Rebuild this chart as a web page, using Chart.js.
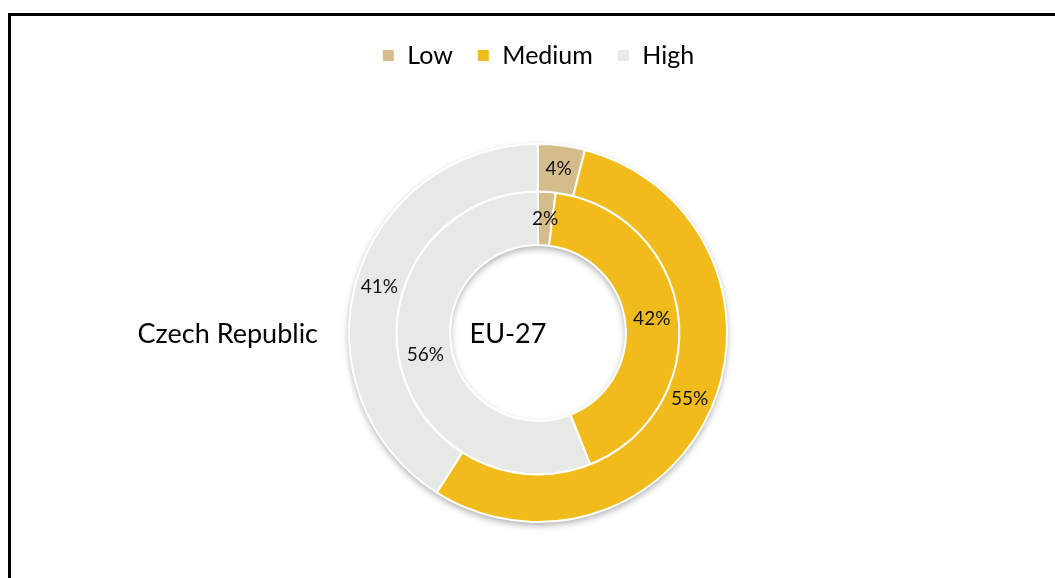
<!DOCTYPE html>
<html>
<head>
<meta charset="utf-8">
<script src="https://cdn.jsdelivr.net/npm/chart.js@4.4.1/dist/chart.umd.min.js"></script>
<style>
  html, body { margin: 0; padding: 0; background: #fff; overflow: hidden; }
  #wrap { position: relative; width: 1055px; height: 578px; }
  #frame { position: absolute; left: 8px; top: 13px; right: -10px; bottom: -10px;
           border-left: 3px solid #000; border-top: 3px solid #000; }
  canvas { position: absolute; left: 0; top: 0; }
</style>
</head>
<body>
<div id="wrap">
  <div id="frame"></div>
  <canvas id="c" width="1055" height="578"></canvas>
</div>
<script>
// Skill level shares (%)
const categories = ['Low', 'Medium', 'High'];
const czechRepublic = [4, 55, 41];   // outer ring
const eu27 = [2, 42, 56];            // inner ring
const ringNames = ['Czech Republic', 'EU-27'];
const colors = ['#D5BD8B', '#F1BC1B', '#E6E9E6'];

const FONT = 'Lato, "Open Sans", sans-serif';

// Soft drop shadow under the whole doughnut
const ringShadow = {
  id: 'ringShadow',
  beforeDatasetsDraw(chart) {
    const outer = chart.getDatasetMeta(0).data[0];
    const inner = chart.getDatasetMeta(1).data[0];
    if (!outer || !inner) return;
    const ctx = chart.ctx;
    ctx.save();
    ctx.shadowColor = 'rgba(0,0,0,0.35)';
    ctx.shadowBlur = 7;
    ctx.shadowOffsetY = 3;
    ctx.fillStyle = '#ffffff';
    ctx.beginPath();
    ctx.arc(outer.x, outer.y, outer.outerRadius, 0, Math.PI * 2);
    ctx.arc(outer.x, outer.y, inner.innerRadius, 0, Math.PI * 2, true);
    ctx.fill();
    ctx.restore();
  }
};

// Percentage labels on each slice, plus ring names
const sliceLabels = {
  id: 'sliceLabels',
  afterDatasetsDraw(chart) {
    const ctx = chart.ctx;
    ctx.save();
    ctx.font = '19px ' + FONT;
    ctx.fillStyle = '#111';
    ctx.textAlign = 'center';
    ctx.textBaseline = 'middle';
    chart.data.datasets.forEach((ds, di) => {
      chart.getDatasetMeta(di).data.forEach((arc, i) => {
        const p = arc.tooltipPosition();
        ctx.fillText(ds.data[i] + '%', p.x, p.y);
      });
    });
    const c = chart.getDatasetMeta(0).data[0];
    ctx.font = '27px ' + FONT;
    ctx.fillStyle = '#000';
    ctx.textAlign = 'right';
    ctx.fillText(ringNames[0], c.x - 220, c.y + 1);
    ctx.textAlign = 'center';
    ctx.fillText(ringNames[1], c.x - 30, c.y + 1);
    ctx.restore();
  }
};

// Reserve space between legend and doughnut
const legendGap = {
  id: 'legendGap',
  beforeInit(chart) {
    const fit = chart.legend.fit;
    chart.legend.fit = function () {
      fit.bind(chart.legend)();
      this.height = 124;
    };
  }
};

new Chart(document.getElementById('c'), {
  type: 'doughnut',
  data: {
    labels: categories,
    datasets: [
      { label: ringNames[0], data: czechRepublic, backgroundColor: colors,
        borderColor: '#ffffff', borderWidth: 2, weight: 48 },
      { label: ringNames[1], data: eu27, backgroundColor: colors,
        borderColor: '#ffffff', borderWidth: 2, weight: 54 }
    ]
  },
  options: {
    responsive: false,
    animation: false,
    cutout: '46.5%',
    layout: { padding: { top: 19, bottom: 55, left: 21, right: 0 } },
    plugins: {
      tooltip: { enabled: false },
      legend: {
        position: 'top',
        labels: {
          boxWidth: 13, boxHeight: 13, padding: 24,
          color: '#000',
          font: { family: FONT, size: 25 }
        }
      }
    }
  },
  plugins: [ringShadow, sliceLabels, legendGap]
});
</script>
</body>
</html>
